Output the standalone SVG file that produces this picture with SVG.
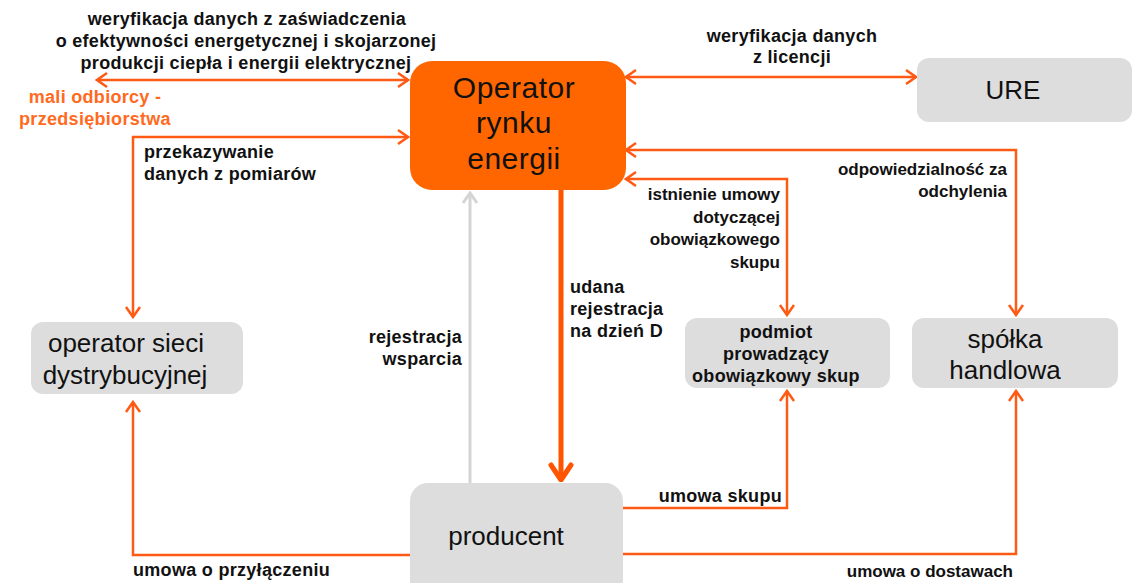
<svg xmlns="http://www.w3.org/2000/svg" width="1140" height="583" viewBox="0 0 1140 583">
<style>
.node{fill:#dddddd}
.op{fill:#ff6600}
.nt{font-family:"Liberation Sans",Arial,sans-serif;font-size:26px;fill:#111;text-anchor:middle}
.ot{font-family:"Liberation Sans",Arial,sans-serif;font-size:30px;letter-spacing:0.5px;fill:#111;text-anchor:middle}
.bt{font-family:"Liberation Sans",Arial,sans-serif;font-size:18px;letter-spacing:0.3px;font-weight:bold;fill:#111}
.s{font-size:17px;letter-spacing:0}
.ln{fill:none;stroke:#ff5a14;stroke-width:2.5}
.c{text-anchor:middle}
.r{text-anchor:end}
.orange{fill:#ff6a1f}
</style>
<defs>
<marker id="a" viewBox="-2 -9 14 18" refX="10" refY="0" markerWidth="14" markerHeight="18" markerUnits="userSpaceOnUse" orient="auto-start-reverse">
<path d="M0,-7 L10,0 L0,7" fill="none" stroke="#ff5a14" stroke-width="2.5"/>
</marker>
<marker id="ag" viewBox="-2 -9 14 18" refX="10" refY="0" markerWidth="14" markerHeight="18" markerUnits="userSpaceOnUse" orient="auto">
<path d="M0,-7 L10,0 L0,7" fill="none" stroke="#d4d4d4" stroke-width="3"/>
</marker>
<marker id="at" viewBox="-3 -13 20 26" refX="15" refY="0" markerWidth="20" markerHeight="26" markerUnits="userSpaceOnUse" orient="auto">
<path d="M0,-10 L15,0 L0,10" fill="none" stroke="#ff5500" stroke-width="5" stroke-linejoin="round" stroke-linecap="round"/>
</marker>
</defs>
<rect width="1140" height="583" fill="#ffffff"/>
<g id="connectors">
<path class="ln" d="M97,80 H408" marker-start="url(#a)" marker-end="url(#a)"/>
<path class="ln" d="M133,317 V137 H408" marker-start="url(#a)" marker-end="url(#a)"/>
<path class="ln" d="M410,555 H133 V402" marker-end="url(#a)"/>
<path fill="none" stroke="#d4d4d4" stroke-width="3" d="M470,483 V193" marker-end="url(#ag)"/>
<path fill="none" stroke="#ff5500" stroke-width="5" d="M561,190 V480" marker-end="url(#at)"/>
<path class="ln" d="M623,508 H787 V391" marker-end="url(#a)"/>
<path class="ln" d="M623,554 H1016 V391" marker-end="url(#a)"/>
<path class="ln" d="M626,77 H916" marker-start="url(#a)" marker-end="url(#a)"/>
<path class="ln" d="M626,150 H1016 V315" marker-start="url(#a)" marker-end="url(#a)"/>
<path class="ln" d="M626,179 H787 V315" marker-start="url(#a)" marker-end="url(#a)"/>
</g>
<g id="operator">
<rect class="op" x="410" y="61" width="216" height="129" rx="22"/>
<text class="ot" x="514" y="98">Operator</text>
<text class="ot" x="514" y="133">rynku</text>
<text class="ot" x="514" y="169">energii</text>
</g>
<g id="ure">
<rect class="node" x="917" y="58" width="215" height="64" rx="12"/>
<text class="nt" x="1013" y="99">URE</text>
</g>
<g id="osd">
<rect class="node" x="31" y="322" width="212" height="72" rx="12"/>
<text class="nt" x="126" y="352">operator  sieci</text>
<text class="nt" x="125" y="384">dystrybucyjnej</text>
</g>
<g id="podmiot">
<rect class="node" x="685" y="318" width="205" height="70" rx="12"/>
<text class="bt c" x="776" y="338">podmiot</text>
<text class="bt c" x="776" y="360">prowadzący</text>
<text class="bt c" x="776" y="382">obowiązkowy skup</text>
</g>
<g id="spolka">
<rect class="node" x="912" y="318" width="206" height="70" rx="12"/>
<text class="nt" x="1005" y="348">spółka</text>
<text class="nt" x="1005" y="379">handlowa</text>
</g>
<g id="producent">
<rect class="node" x="410" y="483" width="213" height="115" rx="18"/>
<text class="nt" x="506" y="545">producent</text>
</g>
<g id="labels">
<text class="bt c" x="247" y="25">weryfikacja danych z zaświadczenia</text>
<text class="bt c" x="246" y="47">o efektywności energetycznej i skojarzonej</text>
<text class="bt c" x="246" y="69">produkcji ciepła i energii elektrycznej</text>
<text class="bt c orange" x="95" y="103">mali odbiorcy -</text>
<text class="bt c orange" x="95" y="125">przedsiębiorstwa</text>
<text class="bt" x="144" y="158">przekazywanie</text>
<text class="bt" x="144" y="180">danych z pomiarów</text>
<text class="bt c" x="792" y="42">weryfikacja danych</text>
<text class="bt c" x="792" y="63">z licencji</text>
<text class="bt s r" x="1007" y="175">odpowiedzialność za</text>
<text class="bt s r" x="1007" y="197">odchylenia</text>
<text class="bt s r" x="780" y="200">istnienie umowy</text>
<text class="bt s r" x="780" y="223">dotyczącej</text>
<text class="bt s r" x="780" y="245">obowiązkowego</text>
<text class="bt s r" x="780" y="268">skupu</text>
<text class="bt" x="570" y="293">udana</text>
<text class="bt" x="570" y="315">rejestracja</text>
<text class="bt" x="570" y="337">na dzień D</text>
<text class="bt r" x="462" y="343">rejestracja</text>
<text class="bt r" x="462" y="365">wsparcia</text>
<text class="bt" x="133" y="576">umowa o przyłączeniu</text>
<text class="bt r" x="782" y="502">umowa skupu</text>
<text class="bt s r" x="1013" y="577">umowa o dostawach</text>
</g>
</svg>
